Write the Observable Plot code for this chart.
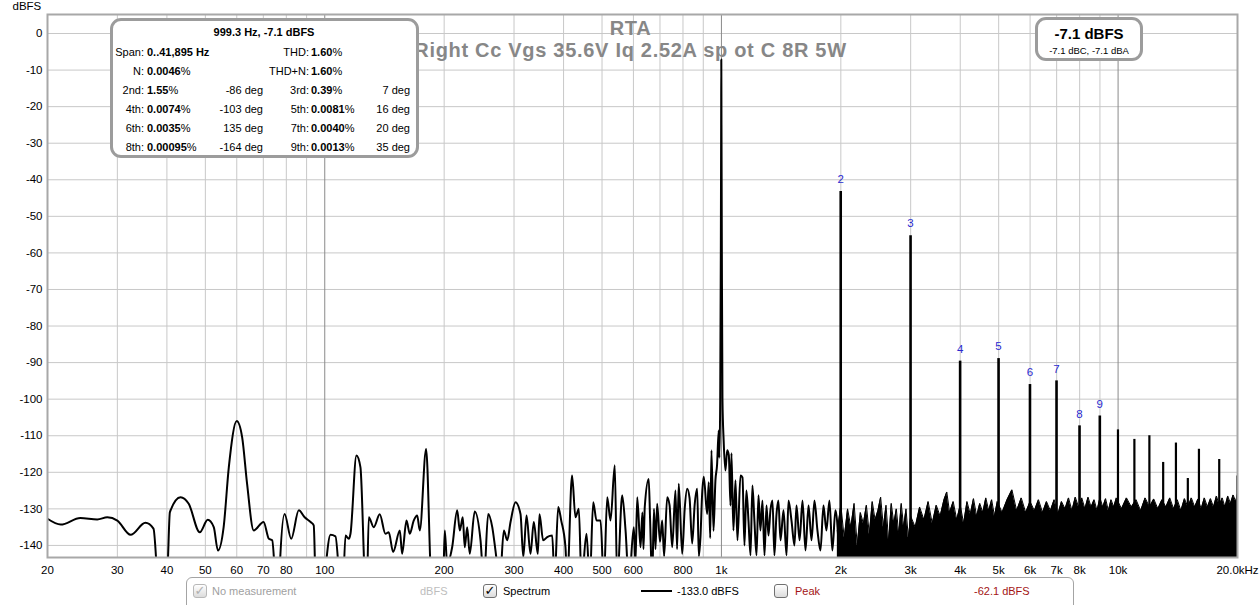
<!DOCTYPE html>
<html><head><meta charset="utf-8">
<script src="https://cdn.jsdelivr.net/npm/d3@7"></script>
<script src="https://cdn.jsdelivr.net/npm/@observablehq/plot@0.6"></script>
<style>
body{margin:0;background:#fff}
#chart{position:relative;width:1260px;height:605px;overflow:hidden;font-family:'Liberation Sans',Arial,sans-serif;color:#000;background:#fff}
.a{position:absolute;white-space:nowrap;line-height:14px;font-size:11px}
</style>
</head><body><div id="chart"></div>
<script>
// ---------------- DATA ----------------
const titleText = "RTA";
const subtitleText = "Right Cc Vgs 35.6V Iq 2.52A sp ot C 8R 5W";

// Spectrum trace 20 Hz .. ~2 kHz (Hz, dBFS); values below -143 fall off the chart
const curveHz = [20,21.6,24.2,26.7,28.3,30,32.4,35.3,37.0,37.9,39,40.2,40.7,43.3,45.4,48.4,50.7,52.5,53.8,55.6,57.3,60,61.9,63.7,66.2,70.1,72.3,73.7,75.1,76.3,77.1,79.2,82.3,86.0,89,92.1,93.8,94.8,97.2,99.6,103.4,106.4,109.1,110.8,112.8,115.0,116.1,120.2,123.0,126.2,127.4,129.1,132.9,137.6,142.2,145.0,148.7,154.6,156.7,160.7,163.8,167.6,171.0,173.6,180.1,185.4,191,198.9,200.7,203.5,209.5,215.7,219,222.8,225.4,228.6,232,238.8,247,251.8,258.2,264.4,269.4,276.2,282.8,288.4,294,302.6,311.5,316.6,322.6,330.1,336.5,344.4,347.8,355.3,363.6,374.5,379.6,387.7,394.6,404.4,408.4,420.2,428.6,437,444,456.9,465.6,475.1,484.4,495.7,505.3,515.4,525.3,538.4,546.1,562.2,573.2,584.5,601.4,607,613.4,625.2,632,636,640.8,655.7,661,668.9,676,682,688.6,700,709,717,729.9,740,751.4,765.8,773,780.6,796.3,808,819.8,831,843.8,856,868.7,877,885.5,894,902.6,920.5,929,937,943.7,955,965.8,975,984.5,988,993,996.5,998.5,999.3,1000.3,1002.5,1006,1013,1023.5,1034,1044,1054,1060,1072,1085,1097.5,1117,1130,1143,1156,1170,1184,1197,1211,1226,1240,1254,1269,1284,1299,1314,1329,1345,1360,1376,1392,1409,1434,1459,1476,1502,1528,1546,1574,1601,1629,1658,1687,1716,1746,1777,1808,1839,1872,1904,1938,1972];
const curveDb = [-132.7,-134.3,-132.5,-132.9,-132.3,-133.2,-137.1,-133.8,-135.4,-150,-165,-145,-130.9,-126.8,-128.6,-136.4,-133.0,-135.0,-141.4,-135.0,-118.6,-106.0,-110.4,-123.1,-135.9,-133.6,-138.2,-138.6,-150,-160,-145,-131.4,-138.2,-130.4,-132.3,-133.6,-134.5,-150,-160,-150,-137.1,-137.5,-150,-155,-137.3,-138.2,-136.8,-115.4,-118.6,-150,-158,-132.3,-135.0,-131.5,-136.8,-136.4,-141.8,-135.9,-142.3,-133.2,-136.8,-133.2,-131.8,-135.9,-113.6,-150,-160,-150,-135.9,-145,-140.5,-130.4,-135.9,-132.3,-140.5,-135.0,-142.3,-130.7,-138.6,-150,-131.4,-135.0,-141.4,-150,-135.9,-138.6,-133.6,-128.2,-131.4,-143.2,-131.8,-142.3,-133.6,-142.3,-131.5,-138.6,-137.7,-137.3,-150,-129.5,-133.2,-140.5,-150,-120.9,-132.3,-130,-150,-136.8,-150,-128.2,-133.2,-133.2,-150,-126.8,-133.2,-118.1,-150,-126.3,-135.9,-150,-135,-145,-126.8,-140.5,-131,-141,-129.5,-121.8,-133,-150,-130,-141,-128.6,-139,-133.2,-143,-126.8,-129,-140.5,-125,-141,-123.1,-142.3,-130,-124.5,-127,-139.5,-129,-124.5,-143,-137.7,-126,-121.2,-131.4,-122.7,-138,-114,-136,-122.2,-118,-108.6,-116,-100,-60,-25,-7.1,-25,-60,-100,-111.3,-119.5,-114,-115.4,-129.1,-114.8,-135.9,-122.2,-138.6,-120.9,-121.4,-140,-125,-133.2,-142.7,-123.6,-133.2,-142.7,-126.3,-135.9,-127.7,-142.7,-129.1,-137.3,-130.4,-127.7,-142.7,-131.8,-127.7,-138.6,-130.4,-142.7,-127.7,-133.2,-140,-129.1,-138.6,-127.7,-141.4,-129.1,-138.6,-127.7,-135.9,-141.4,-129.1,-135.9,-127.7,-141.4,-130.4,-138.6];

// Dense noise floor 1.96 kHz .. 20 kHz: upper edge (Hz, dBFS)
const floorHz = [1960,2000,2040,2080,2120,2160,2200,2240,2280,2320,2360,2400,2440,2480,2520,2560,2600,2640,2680,2720,2760,2800,2840,2880,2920,2960,3000,3080,3160,3240,3320,3400,3480,3560,3640,3700,3760,3840,3920,4000,4080,4160,4240,4320,4400,4480,4560,4640,4720,4800,4880,4960,5100,5250,5400,5550,5700,5850,6000,6150,6300,6450,6600,6750,6900,7050,7200,7350,7500,7650,7800,7950,8100,8250,8400,8550,8700,8850,9000,9150,9300,9450,9600,9750,9900,10200,10500,10800,11100,11400,11700,12000,12300,12600,12900,13200,13500,13800,14100,14400,14700,15000,15300,15600,15900,16200,16500,16800,17100,17400,17700,18000,18300,18600,18900,19200,19500,19800,20000];
const floorDb = [-136,-129,-138,-130,-135,-128.5,-140,-131,-134,-129,-137,-128,-133,-130.5,-126.8,-135,-129,-139,-128.5,-134,-130,-137,-128.5,-135,-130,-138,-132,-135,-129.5,-133,-128,-134,-129,-132,-127.5,-125.4,-131,-128,-133,-129,-134,-128,-131.5,-127.2,-132,-128.5,-131,-127,-130.5,-127.5,-132,-128,-131,-127.5,-124.8,-130.5,-127,-131,-128,-130.5,-127.5,-131,-128,-130.5,-127.5,-131.5,-128,-130,-127,-130.5,-126.8,-129.5,-127,-130,-126.8,-129.5,-127.5,-130.5,-127,-129.5,-127.2,-130.5,-127.5,-129.5,-127,-130,-127,-129.5,-127.5,-130.5,-127,-129.5,-127.3,-130,-127.5,-129.5,-127,-130,-127.5,-130.5,-127.2,-129.5,-127,-129.5,-127.3,-130,-127,-129.5,-127.2,-129.5,-126.5,-129,-127,-129.5,-126.5,-128.5,-126.2,-128,-125.8];

// Labelled harmonics of the 999.3 Hz tone
const harmonicHz = [1998.6,2997.9,3997.2,4996.5,5995.8,6995.1,7994.4,8993.7];
const harmonicDb = [-43.2,-55.3,-89.6,-88.9,-96.0,-95.0,-107.3,-104.6];
const harmonicLabel = ["2","3","4","5","6","7","8","9"];

// Higher harmonics (unlabelled)
const upperHz = [9993,10992,11992,12991,13990,14990,15989,17987,19986];
const upperDb = [-108.4,-111,-110,-117.3,-112,-121.7,-113.7,-116.5,-121];

// Axes
const xGridHz = [30,40,50,60,70,80,90,100,200,300,400,500,600,700,800,900,1000,2000,3000,4000,5000,6000,7000,8000,9000,10000];
const xMajorHz = [100,1000,10000];
const xTickHz = [20,30,40,50,60,70,80,100,200,300,400,500,600,800,1000,2000,3000,4000,5000,6000,7000,8000,10000,20000];
const xTickText = ["20","30","40","50","60","70","80","100","200","300","400","500","600","800","1k","2k","3k","4k","5k","6k","7k","8k","10k","20.0kHz"];
const yTickDb = [0,-10,-20,-30,-40,-50,-60,-70,-80,-90,-100,-110,-120,-130,-140];

// Info box
const infoTitle = "999.3 Hz, -7.1 dBFS";
const infoLeftLabel = ["Span:","N:","2nd:","4th:","6th:","8th:"];
const infoLeftValue = ["0..41,895 Hz","0.0046%","1.55%","0.0074%","0.0035%","0.00095%"];
const infoLeftPhase = ["","","-86 deg","-103 deg","135 deg","-164 deg"];
const infoRightLabel = ["THD:","THD+N:","3rd:","5th:","7th:","9th:"];
const infoRightValue = ["1.60%","1.60%","0.39%","0.0081%","0.0040%","0.0013%"];
const infoRightPhase = ["","","7 deg","16 deg","20 deg","35 deg"];
const levelMain = "-7.1 dBFS";
const levelSub = "-7.1 dBC, -7.1 dBA";

// Legend bar
const legendNoMeas = "No measurement";
const legendUnit = "dBFS";
const legendSpectrum = "Spectrum";
const legendSpectrumVal = "-133.0 dBFS";
const legendPeak = "Peak";
const legendPeakVal = "-62.1 dBFS";

// ---------------- CHART ----------------
const wrap = document.getElementById("chart");
const curveRows = curveHz.map((f, i) => ({f, db: curveDb[i]}));
const floorRows = floorHz.map((f, i) => ({f, db: floorDb[i]}));
const harmRows = harmonicHz.map((f, i) => ({f, db: harmonicDb[i], label: harmonicLabel[i]}));
const upperRows = upperHz.map((f, i) => ({f, db: upperDb[i]}));
const xTickRows = xTickHz.map((f, i) => ({f, t: xTickText[i]}));

const plot = Plot.plot({
  width: 1260, height: 577,
  marginLeft: 47, marginRight: 23, marginTop: 14, marginBottom: 20,
  style: {fontFamily: "'Liberation Sans', Arial, sans-serif", fontSize: "11.5px", background: "#fff", color: "#000"},
  x: {type: "log", domain: [20, 20000], label: null, axis: null},
  y: {domain: [-143.3, 5.2], label: null, axis: null},
  marks: [
    Plot.ruleY(yTickDb, {stroke: "#c8c8c8", strokeWidth: 1}),
    Plot.ruleX(xGridHz, {stroke: d => xMajorHz.includes(d) ? "#8a8a8a" : "#c8c8c8", strokeWidth: 1}),
    Plot.text(xTickRows, {x: "f", text: "t", frameAnchor: "bottom", dy: 12.5, lineAnchor: "middle", fontSize: 11.5, fill: "#000"}),
    Plot.text(yTickDb, {y: d => d, text: d => String(d), frameAnchor: "left", dx: -5, textAnchor: "end", lineAnchor: "middle", fontSize: 11.5, fill: "#000"}),
    Plot.text([titleText], {frameAnchor: "top", dx: -12, dy: 14.5, lineAnchor: "middle", fontSize: 20, fontWeight: "bold", fill: "#878787"}),
    Plot.text([subtitleText], {frameAnchor: "top", dx: -12, dy: 36, lineAnchor: "middle", fontSize: 20, fontWeight: "bold", fill: "#878787"}),
    Plot.areaY(floorRows, {x: "f", y1: -150, y2: "db", fill: "#000", clip: true}),
    Plot.line(floorRows, {x: "f", y: "db", stroke: "#000", strokeWidth: 1, clip: true}),
    Plot.line(curveRows, {x: "f", y: "db", stroke: "#000", strokeWidth: 2, curve: "monotone-x", clip: true}),
    Plot.ruleX(harmRows, {x: "f", y1: -150, y2: "db", stroke: "#000", strokeWidth: 2.6, clip: true}),
    Plot.ruleX(upperRows, {x: "f", y1: -150, y2: "db", stroke: "#000", strokeWidth: 2.2, clip: true}),
    Plot.text(harmRows, {x: "f", y: "db", text: "label", dy: -12, fill: "#2a2acf", fontSize: 11.5}),
    Plot.text(["dBFS"], {frameAnchor: "top-left", dx: -35, dy: -8, textAnchor: "start", lineAnchor: "middle", fontSize: 11.5, fill: "#000"}),
    Plot.frame({stroke: "#a8a8a8", strokeWidth: 2})
  ]
});
plot.style.position = "absolute";
plot.style.left = "0px";
plot.style.top = "0px";
wrap.appendChild(plot);
d3.select(plot).selectAll("text").filter(function () {
  return this.textContent === titleText || this.textContent === subtitleText;
}).style("letter-spacing", "0.7px");

// ---------------- OVERLAYS ----------------
function box(x, y, w, h, css) {
  const b = document.createElement("div");
  Object.assign(b.style, {position: "absolute", left: x + "px", top: y + "px", width: w + "px", height: h + "px", boxSizing: "border-box", background: "#fff"}, css);
  wrap.appendChild(b);
  return b;
}
function put(parts, x, y, align, css) {
  const s = document.createElement("div");
  s.className = "a";
  for (const [t, bold] of parts) {
    const sp = document.createElement("span");
    sp.textContent = t;
    if (bold) sp.style.fontWeight = "bold";
    s.appendChild(sp);
  }
  s.style.top = (y - 7) + "px";
  if (align === "right") s.style.right = (1260 - x) + "px";
  else if (align === "center") { s.style.left = (x - 200) + "px"; s.style.width = "400px"; s.style.textAlign = "center"; }
  else s.style.left = x + "px";
  if (css) Object.assign(s.style, css);
  wrap.appendChild(s);
}
const valParts = v => v.endsWith("%") ? [[v.slice(0, -1), true], ["%", false]] : [[v, true]];

// info box
box(110, 18, 309, 140, {border: "3px solid #9c9c9c", borderRadius: "11px"});
put([[infoTitle, true]], 264, 32, "center");
const rowY = [52, 71, 90, 109, 128, 147];
rowY.forEach((y, i) => {
  put([[infoLeftLabel[i], false]], 144, y, "right");
  put(valParts(infoLeftValue[i]), 147, y, "left");
  if (infoLeftPhase[i]) put([[infoLeftPhase[i], false]], 263, y, "right");
  put([[infoRightLabel[i], false]], 309, y, "right");
  put(valParts(infoRightValue[i]), 311, y, "left");
  if (infoRightPhase[i]) put([[infoRightPhase[i], false]], 410, y, "right");
});

// level box
box(1035, 17, 108, 44, {border: "3px solid #9c9c9c", borderRadius: "11px"});
put([[levelMain, true]], 1089, 33, "center", {fontSize: "15px", lineHeight: "16px"});
put([[levelSub, false]], 1089, 51, "center", {fontSize: "9.5px"});

// legend bar
box(186, 577, 888, 40, {border: "1px solid #a4a4a4", borderRadius: "6px"});
function checkbox(x, y, checked, disabled) {
  const c = box(x, y, 14, 14, {border: "1px solid " + (disabled ? "#b8b8b8" : "#707070"), borderRadius: "3px", background: "linear-gradient(#ffffff,#dcdcdc)"});
  if (checked) {
    c.textContent = "\u2713";
    Object.assign(c.style, {fontSize: "13px", lineHeight: "12px", textAlign: "center", fontWeight: "bold", color: disabled ? "#b0b0b0" : "#000", fontFamily: "'DejaVu Sans', sans-serif"});
  }
}
checkbox(193, 584, true, true);
put([[legendNoMeas, false]], 212, 591, "left", {color: "#a0a0a0"});
put([[legendUnit, false]], 420, 591, "left", {color: "#bdbdbd"});
checkbox(483, 584, true, false);
put([[legendSpectrum, false]], 503, 591, "left");
box(641, 590, 31, 2, {background: "#000"});
put([[legendSpectrumVal, false]], 677, 591, "left");
checkbox(774, 584, false, false);
put([[legendPeak, false]], 795, 591, "left", {color: "#a31414"});
put([[legendPeakVal, false]], 974, 591, "left", {color: "#a31414"});
</script>
</body></html>
